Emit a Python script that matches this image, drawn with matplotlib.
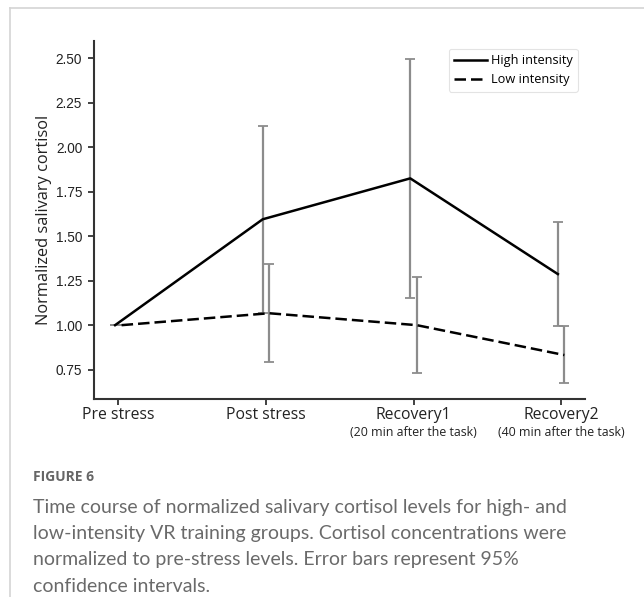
import matplotlib
matplotlib.use("Agg")
import matplotlib.pyplot as plt
from matplotlib.lines import Line2D
import matplotlib.transforms as mtransforms
import numpy as np

categories = ["Pre stress", "Post stress", "Recovery1", "Recovery2"]
subtitles = ["", "", "(20 min after the task)", "(40 min after the task)"]
high_mean = [1.00, 1.595, 1.825, 1.287]
high_lo = [1.00, 1.067, 1.153, 0.996]
high_hi = [1.00, 2.12, 2.495, 1.577]
low_mean = [1.00, 1.067, 1.00, 0.832]
low_lo = [1.00, 0.791, 0.731, 0.677]
low_hi = [1.00, 1.343, 1.272, 0.993]
yticks = [0.75, 1.00, 1.25, 1.50, 1.75, 2.00, 2.25, 2.50]
caption_title = "FIGURE 6"
caption_lines = [
    "Time course of normalized salivary cortisol levels for high- and",
    "low-intensity VR training groups. Cortisol concentrations were",
    "normalized to pre-stress levels. Error bars represent 95%",
    "confidence intervals.",
]

W, H = 644, 597
fig = plt.figure(figsize=(W / 100, H / 100), dpi=100)
ax = fig.add_axes([94 / W, 1 - 399 / H, (585 - 94) / W, (399 - 41) / H])

x = np.arange(len(categories))
dodge = 0.022
hx = x - dodge
lx = x + dodge
hm = np.array(high_mean); lm = np.array(low_mean)
herr = [hm - np.array(high_lo), np.array(high_hi) - hm]
lerr = [lm - np.array(low_lo), np.array(low_hi) - lm]

ecol = "#8c8c8c"
ax.errorbar(hx, hm, yerr=herr, fmt="none", ecolor=ecol, elinewidth=1.6, capsize=3.3, capthick=1.3, zorder=2)
ax.errorbar(lx, lm, yerr=lerr, fmt="none", ecolor=ecol, elinewidth=1.6, capsize=3.3, capthick=1.3, zorder=2)
ax.plot(hx, hm, color="black", lw=1.8, ls="-", label="High intensity", zorder=3)
ax.plot(lx, lm, color="black", lw=1.8, ls=(0, (4.6, 2.0)), label="Low intensity", zorder=3)

ax.set_xlim(-0.165, 3.162)
ax.set_ylim(0.585, 2.597)
ax.set_yticks(yticks)
ax.set_yticklabels([f"{v:.2f}" for v in yticks], fontfamily="Liberation Sans", fontsize=9.8, color="#222222")
ax.set_xticks(x)
ax.set_xticklabels(categories, fontfamily="Open Sans", fontsize=11.3, color="#222222")
for xi, s in zip(x, subtitles):
    if s:
        ax.text(xi, 1 - (432 - 41) / (399 - 41), s,
                transform=mtransforms.blended_transform_factory(ax.transData, ax.transAxes),
                ha="center", va="center", fontfamily="Open Sans", fontsize=8.9, color="#222222")

for side in ["top", "right"]:
    ax.spines[side].set_visible(False)
for side in ["left", "bottom"]:
    ax.spines[side].set_linewidth(1.5)
    ax.spines[side].set_color("#333333")
ax.tick_params(axis="both", direction="out", length=4.5, width=1.3, color="#333333")
ax.tick_params(axis="y", pad=4)
ax.tick_params(axis="x", pad=1)

ax.set_ylabel("Normalized salivary cortisol", fontfamily="Open Sans", fontsize=11.8, color="#222222", labelpad=3)

leg = ax.legend(loc="upper right", bbox_to_anchor=(0.99, 0.985), prop={"family": "Open Sans", "size": 9.2},
                frameon=True, fancybox=True, handlelength=2.6, handletextpad=0.3, borderpad=0.4,
                labelspacing=0.5, borderaxespad=0.2)
leg.get_frame().set_edgecolor("#dddddd")
leg.get_frame().set_linewidth(0.8)

# figure border
fig.add_artist(Line2D([9.5 / W, 1], [1 - 7.5 / H, 1 - 7.5 / H], transform=fig.transFigure, color="#d4d4d4", lw=1.2))
fig.add_artist(Line2D([9.5 / W, 9.5 / W], [0, 1 - 7.5 / H], transform=fig.transFigure, color="#d4d4d4", lw=1.2))

fig.text(33 / W, 1 - 477 / H, caption_title, fontfamily="Open Sans", fontweight="bold", fontsize=10,
         color="#666666", ha="left", va="center")
for i, line in enumerate(caption_lines):
    fig.text(33 / W, 1 - (507 + 26.5 * i) / H, line, fontfamily="Lato", fontsize=14, color="#6a6a6a",
             ha="left", va="center")

fig.savefig("out.png", dpi=100)
